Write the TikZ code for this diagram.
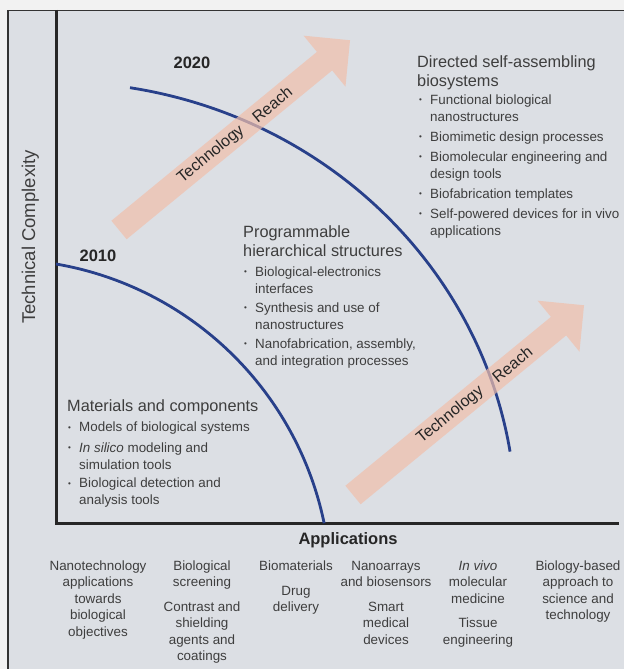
\documentclass[tikz,border=0pt]{standalone}
\usepackage{fontspec}
\setmainfont{Liberation Sans}
\usepackage{graphicx}
\usetikzlibrary{positioning}

\definecolor{pagegray}{RGB}{242,242,242}
\definecolor{panelgray}{RGB}{220,223,228}
\definecolor{curveblue}{RGB}{40,64,138}
\definecolor{reachpink}{RGB}{241,191,171}
\definecolor{labelgray}{RGB}{62,62,62}

\newcommand{\bl}{\makebox[11pt][l]{\raisebox{0.2ex}{\scalebox{0.6}{\textbullet}}}}
\newcommand{\ind}{\hspace*{11pt}}

\begin{document}
\begin{tikzpicture}[x=1pt,y=-1pt,
  head/.style={anchor=base west,align=left,inner sep=0pt,text=labelgray,
    font=\fontsize{16.3}{19.5}\selectfont},
  bullets/.style={anchor=base west,align=left,inner sep=0pt,text=labelgray,
    font=\fontsize{13.4}{17}\selectfont},
  appcol/.style={anchor=base,align=center,inner sep=0pt,text=labelgray,
    font=\fontsize{13.4}{16.5}\selectfont},
  year/.style={anchor=base,inner sep=0pt,text=black!85,
    font=\fontsize{16.5}{19}\selectfont\bfseries},
  curve/.style={curveblue,line width=2.8pt},
  reach/.style={fill=reachpink,fill opacity=0.7},
  reachtext/.style={inner sep=0pt,text=black!85,rotate=39.4,
    font=\fontsize{16}{19}\selectfont}
]

% Page and panel
\useasboundingbox (0,0) rectangle (624,669);
\fill[pagegray] (0,0) rectangle (624,669);
\fill[panelgray] (7,10) rectangle (624,669);
\draw[black!80,line width=1.5pt] (7.75,669) -- (7.75,10.75) -- (624,10.75);

% Axes
\draw[black!85,line width=3pt] (56,10) -- (56,523) -- (619,523);

% Horizons
\draw[curve] (56,264) arc[start angle=-80.26,end angle=-11.68,radius=331];
\draw[curve] (130,87.7) arc[start angle=-80.74,end angle=-9.2,x radius=460,y radius=440];

% Technology reach arrows
\foreach \tx/\ty/\a/\b/\n in {119/230/119/198/1,353/495/126/206/2}{
  \begin{scope}[shift={(\tx,\ty)},rotate=39.4]
    \fill[reach] (0,-12) -- (266,-12) -- (266,-33) -- (299,0)
      -- (266,33) -- (266,12) -- (0,12) -- cycle;
    \node[reachtext] (tech\n) at (\a,0) {Technology};
    \node[reachtext] (reach\n) at (\b,0) {Reach};
  \end{scope}
}

% Years
\node[year] (y2020) at (192,69) {2020};
\node[year] (y2010) at (98,261) {2010};

% Directed self-assembling biosystems (y = baseline of last line)
\node[head] (dsa) at (417,86.5) {Directed self-assembling\\biosystems};
\node[bullets] (dsa1) at (419,121) {\bl Functional biological\\\ind nanostructures};
\node[bullets] (dsa2) at (419,141) {\bl Biomimetic design processes};
\node[bullets] (dsa3) at (419,178) {\bl Biomolecular engineering and\\\ind design tools};
\node[bullets] (dsa4) at (419,198) {\bl Biofabrication templates};
\node[bullets] (dsa5) at (419,235) {\bl Self-powered devices for in vivo\\\ind applications};

% Programmable hierarchical structures
\node[head] (phs) at (243,256.5) {Programmable\\hierarchical structures};
\node[bullets] (phs1) at (244,293) {\bl Biological-electronics\\\ind interfaces};
\node[bullets] (phs2) at (244,329) {\bl Synthesis and use of\\\ind nanostructures};
\node[bullets] (phs3) at (244,365) {\bl Nanofabrication, assembly,\\\ind and integration processes};

% Materials and components
\node[head] (mac) at (67,411) {Materials and components};
\node[bullets] (mac1) at (68,431.5) {\bl Models of biological systems};
\node[bullets] (mac2) at (68,469) {\bl \textit{In silico} modeling and\\\ind simulation tools};
\node[bullets] (mac3) at (68,504.5) {\bl Biological detection and\\\ind analysis tools};

% Axis titles
\node[rotate=90,anchor=base,inner sep=0pt,text=labelgray,
  font=\fontsize{18.5}{22}\selectfont] (techcx) at (35,237) {Technical Complexity};
\node[anchor=base,inner sep=0pt,text=black!85,
  font=\fontsize{16.5}{19}\selectfont\bfseries] (apps) at (348,544) {Applications};

% Applications columns (y = baseline of last line)
\node[appcol] (nano) at (98,636) {Nanotechnology\\applications\\towards\\biological\\objectives};
\node[appcol] (screen) at (202,586.5) {Biological\\screening};
\node[appcol] (contrast) at (202,660.5) {Contrast and\\shielding\\agents and\\coatings};
\node[appcol] (biomat) at (296,570) {Biomaterials};
\node[appcol] (drug) at (296,611.5) {Drug\\delivery};
\node[appcol] (arrays) at (386,586.5) {Nanoarrays\\and biosensors};
\node[appcol] (smart) at (386,644) {Smart\\medical\\devices};
\node[appcol] (invivo) at (478,603) {\textit{In vivo}\\molecular\\medicine};
\node[appcol] (tissue) at (478,644) {Tissue\\engineering};
\node[appcol] (biobased) at (578,619.5) {Biology-based\\approach to\\science and\\technology};

\end{tikzpicture}
\end{document}
